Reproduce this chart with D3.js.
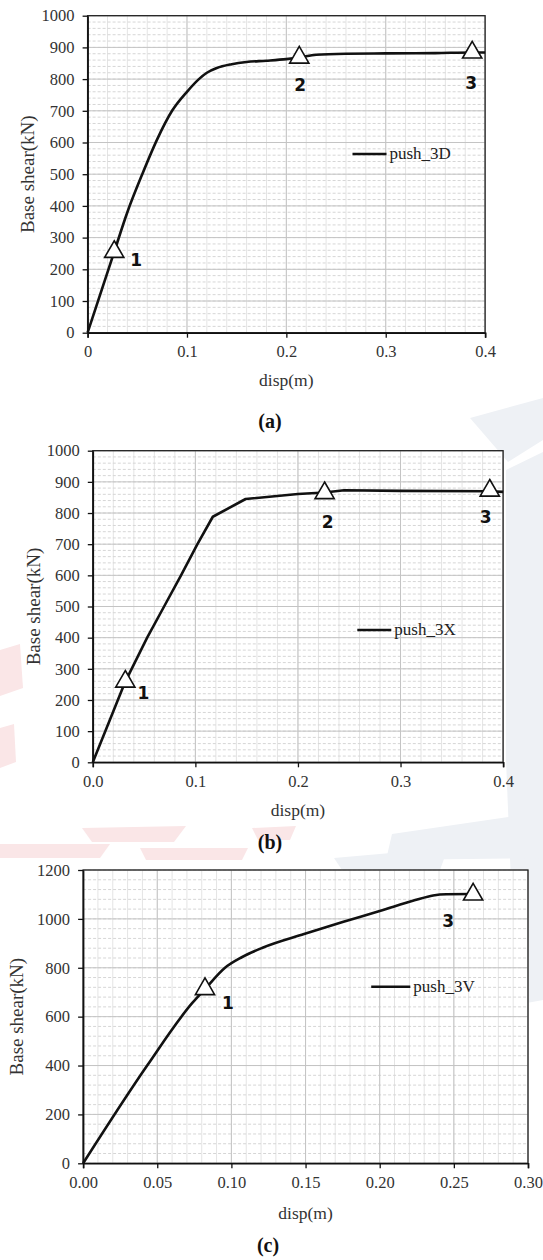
<!DOCTYPE html>
<html>
<head>
<meta charset="utf-8">
<script src="https://cdn.jsdelivr.net/npm/d3@7"></script>
<style>
  html, body { margin: 0; padding: 0; background: #ffffff; }
  svg { display: block; }
</style>
</head>
<body>
<svg id="chart" width="543" height="1260"></svg>
<script>
// ---------------- DATA ----------------
// (a) push_3D
const dispA  = [0, 0.0268, 0.040, 0.055, 0.070, 0.085, 0.100, 0.112, 0.120, 0.130, 0.145, 0.160, 0.180, 0.200, 0.213, 0.230, 0.260, 0.300, 0.350, 0.387, 0.400];
const shearA = [0, 255, 380, 500, 610, 700, 760, 800, 820, 835, 847, 854, 858, 863, 868, 877, 880, 881, 882, 884, 884];
const markDispA  = [0.0268, 0.213, 0.387];
const markShearA = [255, 868, 884];
const markLabelsA = ["1", "2", "3"];

// (b) push_3X
const dispB  = [0, 0.0317, 0.053, 0.0695, 0.086, 0.102, 0.117, 0.149, 0.200, 0.226, 0.245, 0.300, 0.387, 0.400];
const shearB = [0, 259, 400, 500, 600, 700, 788, 845, 861, 866, 873, 871, 870, 868];
const markDispB  = [0.0317, 0.226, 0.387];
const markShearB = [259, 864, 872];
const markLabelsB = ["1", "2", "3"];

// (c) push_3V
const dispC  = [0, 0.0432, 0.0735, 0.0822, 0.0957, 0.107, 0.121, 0.149, 0.175, 0.200, 0.224, 0.236, 0.245, 0.263];
const shearC = [0, 400, 655, 713, 800, 843, 882, 938, 987, 1032, 1077, 1096, 1101, 1102];
const markDispC  = [0.0822, 0.263];
const markShearC = [713, 1100];
const markLabelsC = ["1", "3"];

// ticks
const xTicksAB = [0, 0.1, 0.2, 0.3, 0.4];
const xTickLabelsA = ["0", "0.1", "0.2", "0.3", "0.4"];
const xTickLabelsB = ["0.0", "0.1", "0.2", "0.3", "0.4"];
const yTicksAB = [0, 100, 200, 300, 400, 500, 600, 700, 800, 900, 1000];
const yTickLabelsAB = ["0", "100", "200", "300", "400", "500", "600", "700", "800", "900", "1000"];
const xTicksC = [0, 0.05, 0.10, 0.15, 0.20, 0.25, 0.30];
const xTickLabelsC = ["0.00", "0.05", "0.10", "0.15", "0.20", "0.25", "0.30"];
const yTicksC = [0, 200, 400, 600, 800, 1000, 1200];
const yTickLabelsC = ["0", "200", "400", "600", "800", "1000", "1200"];

const seriesNames = ["push_3D", "push_3X", "push_3V"];
const captions = ["(a)", "(b)", "(c)"];
const xTitle = "disp(m)";
const yTitle = "Base shear(kN)";

// ---------------- DRAW ----------------
const svg = d3.select("#chart");
const SERIF = "'Liberation Serif', 'Times New Roman', serif";

// faint background watermark patches (page decoration)
const wm = svg.append("g");
const blue = "#eef1f5", pink = "#fae6e7";
[
  [[470, 418], [543, 398], [543, 440], [508, 462]],
  [[506, 470], [543, 452], [543, 1000], [516, 1005], [506, 760]],
  [[392, 834], [543, 812], [543, 858], [386, 860]],
  [[334, 858], [448, 848], [440, 870], [342, 870]]
].forEach(p => wm.append("polygon").attr("points", p.join(" ")).attr("fill", blue));
[
  [[0, 650], [20, 644], [23, 688], [0, 696]],
  [[0, 728], [14, 724], [16, 762], [0, 768]],
  [[82, 828], [186, 826], [174, 842], [92, 842]],
  [[252, 828], [296, 826], [290, 840], [258, 840]],
  [[0, 844], [110, 844], [100, 858], [0, 858]],
  [[140, 848], [248, 848], [242, 860], [146, 860]]
].forEach(p => wm.append("polygon").attr("points", p.join(" ")).attr("fill", pink));

function drawChart(cfg) {
  const g = svg.append("g");
  const x = d3.scaleLinear().domain(cfg.xDomain).range([cfg.left, cfg.right]);
  const y = d3.scaleLinear().domain(cfg.yDomain).range([cfg.bottom, cfg.top]);

  // plot background
  g.append("rect").attr("x", cfg.left).attr("y", cfg.top)
    .attr("width", cfg.right - cfg.left).attr("height", cfg.bottom - cfg.top)
    .attr("fill", "#fff");

  // minor grid
  g.append("g").selectAll("line").data(cfg.xMinor).join("line")
    .attr("x1", d => x(d)).attr("x2", d => x(d))
    .attr("y1", cfg.top).attr("y2", cfg.bottom)
    .attr("stroke", "#e4e4e4").attr("stroke-width", 1);
  g.append("g").selectAll("line").data(cfg.yMinor).join("line")
    .attr("x1", cfg.left).attr("x2", cfg.right)
    .attr("y1", d => y(d)).attr("y2", d => y(d))
    .attr("stroke", "#d6d6d6").attr("stroke-width", 1).attr("stroke-dasharray", "3,2");
  // major grid
  g.append("g").selectAll("line").data(cfg.xTicks).join("line")
    .attr("x1", d => x(d)).attr("x2", d => x(d))
    .attr("y1", cfg.top).attr("y2", cfg.bottom)
    .attr("stroke", "#c4c4c4").attr("stroke-width", 1);
  g.append("g").selectAll("line").data(cfg.yTicks).join("line")
    .attr("x1", cfg.left).attr("x2", cfg.right)
    .attr("y1", d => y(d)).attr("y2", d => y(d))
    .attr("stroke", "#c4c4c4").attr("stroke-width", 1);

  // frame
  g.append("rect").attr("x", cfg.left).attr("y", cfg.top)
    .attr("width", cfg.right - cfg.left).attr("height", cfg.bottom - cfg.top)
    .attr("fill", "none").attr("stroke", "#222").attr("stroke-width", 1.3);

  // axes
  const xAxis = d3.axisBottom(x).tickValues(cfg.xTicks)
    .tickFormat((d, i) => cfg.xLabels[i]).tickSize(5).tickPadding(8);
  const yAxis = d3.axisLeft(y).tickValues(cfg.yTicks)
    .tickFormat((d, i) => cfg.yLabels[i]).tickSizeInner(5).tickSizeOuter(0).tickPadding(8);
  const gx = g.append("g").attr("transform", `translate(0,${cfg.bottom})`).call(xAxis);
  const gy = g.append("g").attr("transform", `translate(${cfg.left},0)`).call(yAxis);
  [gx, gy].forEach(a => {
    a.attr("font-family", SERIF).attr("font-size", 16.5);
    a.select(".domain").attr("stroke", "#111").attr("stroke-width", 1.6);
    a.selectAll(".tick line").attr("stroke", "#111").attr("stroke-width", 1.3);
    a.selectAll(".tick text").attr("fill", "#333");
  });

  // curve
  const line = d3.line().x(d => x(d[0])).y(d => y(d[1])).curve(cfg.curve);
  const pts = cfg.disp.map((d, i) => [d, cfg.shear[i]]);
  g.append("path").datum(pts).attr("d", line)
    .attr("fill", "none").attr("stroke", "#111").attr("stroke-width", 2.6)
    .attr("stroke-linejoin", "round");

  // markers
  const tri = d3.symbol(d3.symbolTriangle, 160);
  const marks = cfg.markDisp.map((d, i) => ({ d, v: cfg.markShear[i], lab: cfg.markLabels[i], off: cfg.labelOffsets[i] }));
  g.append("g").selectAll("path").data(marks).join("path")
    .attr("d", tri)
    .attr("transform", m => `translate(${x(m.d)},${y(m.v)})`)
    .attr("fill", "#fff").attr("stroke", "#111").attr("stroke-width", 1.6);
  g.append("g").selectAll("text").data(marks).join("text")
    .attr("x", m => x(m.d) + m.off[0]).attr("y", m => y(m.v) + m.off[1])
    .attr("dy", "0.36em").attr("text-anchor", "middle")
    .attr("font-family", "'DejaVu Sans', Verdana, sans-serif").attr("font-weight", "bold")
    .attr("font-size", 17).attr("fill", "#111")
    .text(m => m.lab);

  // legend
  g.append("line").attr("x1", cfg.legend[0]).attr("x2", cfg.legend[1])
    .attr("y1", cfg.legend[2]).attr("y2", cfg.legend[2])
    .attr("stroke", "#111").attr("stroke-width", 2.6);
  g.append("text").attr("x", cfg.legend[1] + 3).attr("y", cfg.legend[2]).attr("dy", "0.32em")
    .attr("font-family", SERIF).attr("font-size", 17).attr("fill", "#222")
    .text(cfg.name);

  // titles
  g.append("text").attr("x", (cfg.left + cfg.right) / 2).attr("y", cfg.xTitleY)
    .attr("text-anchor", "middle").attr("dy", "0.35em")
    .attr("font-family", SERIF).attr("font-size", 17.5).attr("fill", "#333").text(xTitle);
  g.append("text")
    .attr("transform", `translate(${cfg.yTitleX},${(cfg.top + cfg.bottom) / 2}) rotate(-90)`)
    .attr("text-anchor", "middle").attr("dy", "0.35em")
    .attr("font-family", SERIF).attr("font-size", 19).attr("fill", "#333").text(yTitle);
  g.append("text").attr("x", cfg.capX).attr("y", cfg.capY)
    .attr("text-anchor", "middle").attr("dy", "0.35em")
    .attr("font-family", SERIF).attr("font-weight", "bold").attr("font-size", 20).attr("fill", "#111")
    .text(cfg.caption);
}

drawChart({
  left: 87.6, right: 485.1, top: 15.7, bottom: 332.7,
  xDomain: [0, 0.4], yDomain: [0, 1000],
  xTicks: xTicksAB, xLabels: xTickLabelsA, yTicks: yTicksAB, yLabels: yTickLabelsAB,
  xMinor: d3.range(0, 0.4001, 0.02), yMinor: d3.range(0, 1000.1, 20),
  disp: dispA, shear: shearA, curve: d3.curveMonotoneX,
  markDisp: markDispA, markShear: markShearA, markLabels: markLabelsA,
  labelOffsets: [[22, 8], [1, 27], [-1, 30]],
  legend: [352.5, 386.5, 154], name: seriesNames[0],
  xTitleY: 380, yTitleX: 27.7, capX: 270, capY: 421, caption: captions[0]
});

drawChart({
  left: 92.8, right: 503.1, top: 450.7, bottom: 762.3,
  xDomain: [0, 0.4], yDomain: [0, 1000],
  xTicks: xTicksAB, xLabels: xTickLabelsB, yTicks: yTicksAB, yLabels: yTickLabelsAB,
  xMinor: d3.range(0, 0.4001, 0.02), yMinor: d3.range(0, 1000.1, 20),
  disp: dispB, shear: shearB, curve: d3.curveLinear,
  markDisp: markDispB, markShear: markShearB, markLabels: markLabelsB,
  labelOffsets: [[18, 11], [3, 29], [-4, 26]],
  legend: [357.3, 391.3, 630], name: seriesNames[1],
  xTitleY: 810, yTitleX: 32.9, capX: 270, capY: 842, caption: captions[1]
});

drawChart({
  left: 83.1, right: 528.0, top: 870, bottom: 1163.3,
  xDomain: [0, 0.3], yDomain: [0, 1200],
  xTicks: xTicksC, xLabels: xTickLabelsC, yTicks: yTicksC, yLabels: yTickLabelsC,
  xMinor: d3.range(0, 0.3001, 0.01), yMinor: d3.range(0, 1200.1, 40),
  disp: dispC, shear: shearC, curve: d3.curveMonotoneX,
  markDisp: markDispC, markShear: markShearC, markLabels: markLabelsC,
  labelOffsets: [[23, 14], [-25, 26]],
  legend: [371.2, 410.3, 986.7], name: seriesNames[2],
  xTitleY: 1212.7, yTitleX: 16.6, capX: 268, capY: 1245, caption: captions[2]
});
</script>
</body>
</html>
